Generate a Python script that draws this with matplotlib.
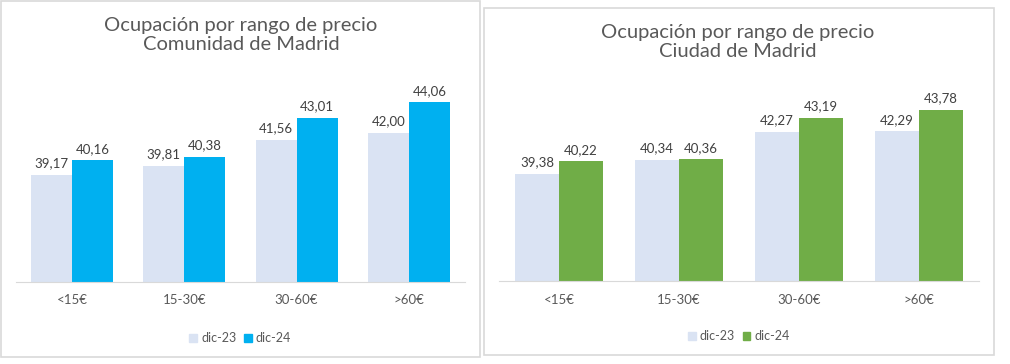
import matplotlib
matplotlib.use('Agg')
import matplotlib.pyplot as plt
import matplotlib.patches as mpatches
import numpy as np

plt.rcParams['font.family'] = ['Lato', 'DejaVu Sans']

categories = ['<15€', '15-30€', '30-60€', '>60€']
series_names = ['dic-23', 'dic-24']

comunidad_23 = [39.17, 39.81, 41.56, 42.00]
comunidad_24 = [40.16, 40.38, 43.01, 44.06]

ciudad_23 = [39.38, 40.34, 42.27, 42.29]
ciudad_24 = [40.22, 40.36, 43.19, 43.78]

titles = ['Ocupación por rango de precio\nComunidad de Madrid',
          'Ocupación por rango de precio\nCiudad de Madrid']

LIGHT = '#DAE3F3'
BLUE = '#00B0F0'
GREEN = '#70AD47'
GRID = '#D9D9D9'
TEXT = '#595959'

W, H = 1010, 364
fig = plt.figure(figsize=(W / 100, H / 100), dpi=100)


def px_box(left, top, right, bottom):
    # pixel box -> figure fraction [l, b, w, h]
    return [left / W, 1 - bottom / H, (right - left) / W, (bottom - top) / H]


def panel_border(left, top, right, bottom):
    l, b, w, h = px_box(left, top, right, bottom)
    fig.patches.append(mpatches.Rectangle((l, b), w, h, transform=fig.transFigure,
                                          fill=False, edgecolor=GRID, linewidth=1.2))


def fmt(v):
    return f'{v:.2f}'.replace('.', ',')


def draw_panel(box, old, new, color, title, title_xy, legend_y):
    ax = fig.add_axes(box)
    x = np.arange(len(categories))
    w = 0.365
    b1 = ax.bar(x - w / 2, np.array(old) - 32, w, bottom=32, color=LIGHT, label=series_names[0])
    b2 = ax.bar(x + w / 2, np.array(new) - 32, w, bottom=32, color=color, label=series_names[1])
    ax.bar_label(b1, labels=[fmt(v) for v in old], padding=4, fontsize=9.5, color='#404040')
    ax.bar_label(b2, labels=[fmt(v) for v in new], padding=4, fontsize=9.5, color='#404040')
    ax.set_xlim(-0.5, 3.5)
    ax.set_ylim(32, 46)
    for s in ['top', 'left', 'right']:
        ax.spines[s].set_visible(False)
    ax.spines['bottom'].set_color(GRID)
    ax.set_yticks([])
    ax.set_xticks(x)
    ax.set_xticklabels(categories, fontsize=9.5, color=TEXT)
    ax.tick_params(axis='x', length=0, pad=9)
    fig.text(title_xy[0] / W, 1 - title_xy[1] / H, title, ha='center', va='center',
             fontsize=14.5, color=TEXT, linespacing=1.2)
    handles = [mpatches.Patch(color=LIGHT), mpatches.Patch(color=color)]
    ax.legend(handles, series_names, loc='center', ncol=2, frameon=False,
              bbox_to_anchor=(0.5, legend_y), fontsize=9, labelcolor=TEXT,
              handlelength=0.6, handleheight=0.6, handletextpad=0.35, columnspacing=0.6)
    return ax


panel_border(1, 1, 480, 357)
panel_border(484, 8, 994, 355)

draw_panel(px_box(15.8, 282 - 14 * 14.9, 465, 282), comunidad_23, comunidad_24, BLUE,
           titles[0], (241, 35), -0.27)
draw_panel(px_box(499, 281 - 14 * 14.55, 979, 281), ciudad_23, ciudad_24, GREEN,
           titles[1], (738, 42), -0.27)

fig.savefig('out.png', dpi=100, facecolor='white')
